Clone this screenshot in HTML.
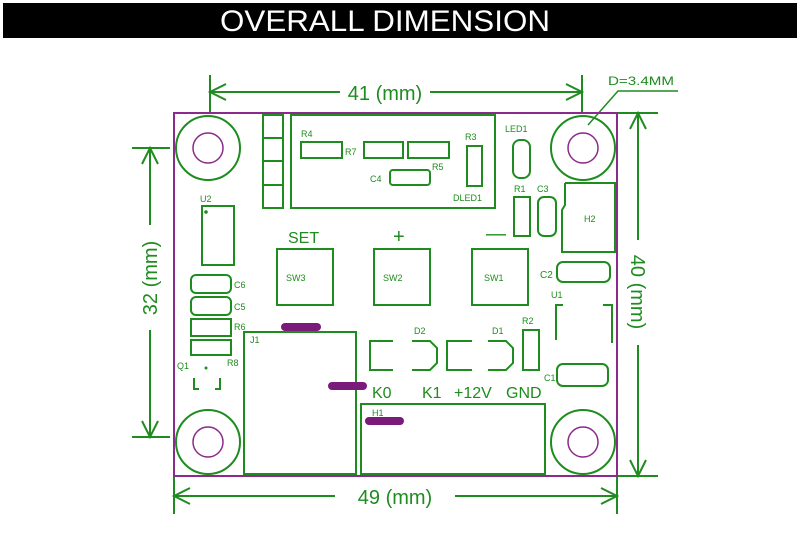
<!DOCTYPE html>
<html><head><meta charset="utf-8"><style>
html,body{margin:0;padding:0;background:#fff;width:800px;height:539px;overflow:hidden}
svg{display:block}
text{font-family:"Liberation Sans",sans-serif}
</style></head><body>
<svg width="800" height="539" viewBox="0 0 800 539" xmlns="http://www.w3.org/2000/svg">
<rect x="3" y="3" width="794" height="35" fill="#000"/>
<text x="385" y="31" fill="#fff" font-size="30" text-anchor="middle" textLength="330" lengthAdjust="spacingAndGlyphs">OVERALL DIMENSION</text>

<g stroke="#1e8c1e" stroke-width="2" fill="none">
<!-- top dim -->
<line x1="210" y1="75" x2="210" y2="113"/><line x1="582" y1="75" x2="582" y2="113"/>
<line x1="210" y1="92" x2="340" y2="92"/><line x1="430" y1="92" x2="582" y2="92"/>
<polyline points="226,84 210,92 226,100"/><polyline points="566,84 582,92 566,100"/>
<!-- left dim -->
<line x1="132" y1="148" x2="170" y2="148"/><line x1="132" y1="437" x2="170" y2="437"/>
<line x1="150" y1="148" x2="150" y2="225"/><line x1="150" y1="330" x2="150" y2="437"/>
<polyline points="142,164 150,148 158,164"/><polyline points="142,421 150,437 158,421"/>
<!-- right dim -->
<line x1="617" y1="113" x2="658" y2="113"/><line x1="617" y1="476" x2="658" y2="476"/>
<line x1="638" y1="113" x2="638" y2="240"/><line x1="638" y1="345" x2="638" y2="476"/>
<polyline points="630,129 638,113 646,129"/><polyline points="630,460 638,476 646,460"/>
<!-- bottom dim -->
<line x1="174" y1="476" x2="174" y2="514"/><line x1="617" y1="476" x2="617" y2="514"/>
<line x1="174" y1="496" x2="335" y2="496"/><line x1="455" y1="496" x2="617" y2="496"/>
<polyline points="190,488 174,496 190,504"/><polyline points="601,488 617,496 601,504"/>
<!-- leader -->
<polyline points="588,125 618,91 678,91" stroke-width="1.5"/>
</g>
<g fill="#1e8c1e" font-size="20">
<text x="385" y="100" text-anchor="middle">41 (mm)</text>
<text x="395" y="504" text-anchor="middle">49 (mm)</text>
<text transform="translate(157,278) rotate(-90)" text-anchor="middle">32 (mm)</text>
<text transform="translate(631,292) rotate(90)" text-anchor="middle">40 (mm)</text>
<text x="608" y="85" font-size="12" textLength="66" lengthAdjust="spacingAndGlyphs">D=3.4MM</text>
</g>

<!-- board -->
<rect x="174" y="113" width="443" height="363" fill="none" stroke="#8a2a8a" stroke-width="2"/>
<g stroke="#1e8c1e" stroke-width="2" fill="none">
<circle cx="208" cy="148" r="32"/><circle cx="583" cy="148" r="32"/>
<circle cx="208" cy="442" r="32"/><circle cx="583" cy="442" r="32"/>
<rect x="263" y="115" width="20" height="93"/>
<line x1="263" y1="138" x2="283" y2="138"/><line x1="263" y1="161" x2="283" y2="161"/><line x1="263" y1="185" x2="283" y2="185"/>
<rect x="291" y="115" width="204" height="93"/>
<rect x="301" y="142" width="41" height="16"/>
<rect x="364" y="142" width="39" height="16"/>
<rect x="408" y="142" width="41" height="16"/>
<rect x="390" y="170" width="40" height="15" rx="3"/>
<rect x="467" y="146" width="15" height="40"/>
<rect x="513" y="140" width="17" height="38" rx="7"/>
<rect x="514" y="197" width="16" height="39"/>
<rect x="538" y="197" width="18" height="39" rx="6"/>
<polyline points="565,183 615,183 615,252 562,252 562,210 565,205 565,183"/>
<rect x="202" y="206" width="32" height="59"/>
<rect x="277" y="249" width="56" height="56"/>
<rect x="374" y="249" width="56" height="56"/>
<rect x="472" y="249" width="56" height="56"/>
<rect x="557" y="262" width="53" height="20" rx="6"/>
<polyline points="556,340 556,305 563,305"/><polyline points="603,305 612,305 612,343"/>
<rect x="191" y="275" width="40" height="18" rx="5"/>
<rect x="191" y="297" width="40" height="18" rx="5"/>
<rect x="191" y="319" width="40" height="17"/>
<rect x="191" y="340" width="40" height="15"/>
<polyline points="194,378 194,389 199,389"/><polyline points="215,389 220,389 220,378"/>
<rect x="244" y="332" width="112" height="142"/>
<polyline points="393,341 370,341 370,370 393,370"/>
<polyline points="412,341 430,341 437,348 437,363 430,370 412,370"/>
<polyline points="472,341 447,341 447,370 472,370"/>
<polyline points="488,341 506,341 513,348 513,363 506,370 488,370"/>
<rect x="523" y="330" width="16" height="40"/>
<rect x="557" y="364" width="51" height="22" rx="6"/>
<rect x="361" y="404" width="184" height="70"/>
</g>
<g fill="none" stroke="#8a2a8a" stroke-width="1.5">
<circle cx="208" cy="148" r="15"/><circle cx="583" cy="148" r="15"/>
<circle cx="208" cy="442" r="15"/><circle cx="583" cy="442" r="15"/>
</g>
<g stroke="#7a1a7a" stroke-width="8" stroke-linecap="round">
<line x1="285" y1="327" x2="317" y2="327"/>
<line x1="332" y1="386" x2="363" y2="386"/>
<line x1="369" y1="421" x2="400" y2="421"/>
</g>
<circle cx="206" cy="212" r="1.8" fill="#1e8c1e"/><circle cx="206" cy="368" r="1.5" fill="#1e8c1e"/>
<g fill="#1e8c1e" font-size="9">
<text x="301" y="137">R4</text><text x="345" y="155">R7</text><text x="432" y="170">R5</text>
<text x="370" y="182">C4</text><text x="465" y="140">R3</text><text x="453" y="201">DLED1</text>
<text x="505" y="132">LED1</text><text x="514" y="192">R1</text><text x="537" y="192">C3</text>
<text x="584" y="222">H2</text><text x="200" y="202">U2</text>
<text x="286" y="281">SW3</text><text x="383" y="281">SW2</text><text x="484" y="281">SW1</text>
<text x="540" y="278" font-size="10">C2</text><text x="551" y="298">U1</text>
<text x="234" y="288">C6</text><text x="234" y="310">C5</text><text x="234" y="330">R6</text>
<text x="227" y="366">R8</text><text x="177" y="369">Q1</text><text x="250" y="343">J1</text>
<text x="414" y="334">D2</text><text x="492" y="334">D1</text><text x="522" y="324">R2</text>
<text x="544" y="381">C1</text><text x="372" y="416">H1</text>
</g>
<g fill="#1e8c1e" font-size="16">
<text x="288" y="243">SET</text><text x="393" y="243" font-size="20">+</text><text x="486" y="240" font-size="20">—</text>
<text x="372" y="398">K0</text><text x="422" y="398">K1</text><text x="454" y="398">+12V</text><text x="506" y="398">GND</text>
</g>
</svg>
</body></html>
